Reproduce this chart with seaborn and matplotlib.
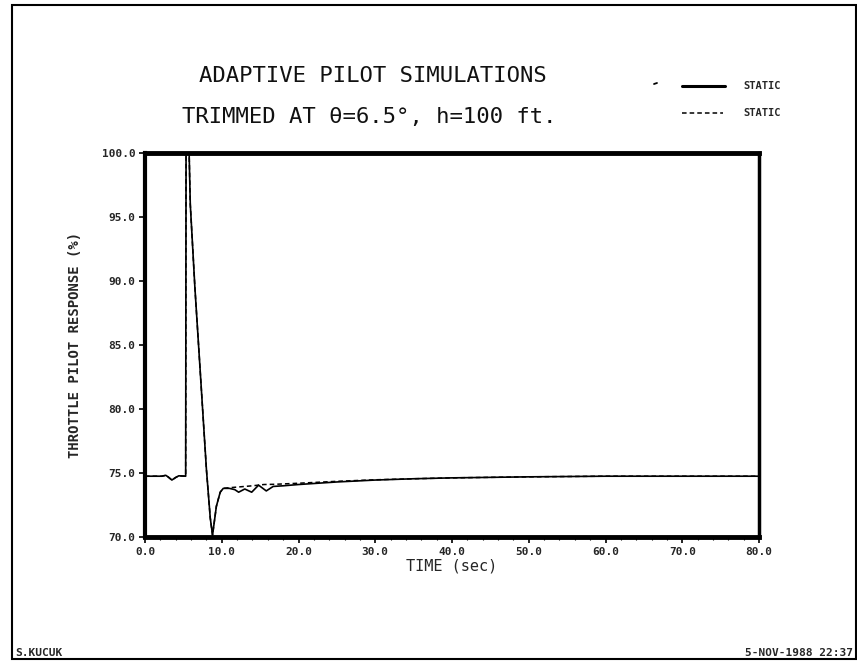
import matplotlib
matplotlib.use("Agg")
import matplotlib.pyplot as plt
from matplotlib.lines import Line2D
from matplotlib.patches import Rectangle
from matplotlib.ticker import MultipleLocator
import numpy as np
import pandas as pd
import seaborn as sns

# Throttle pilot response (%) versus time (sec)
time_solid = [0.0, 2.2, 2.7, 3.0, 3.5, 4.0, 4.4, 5.3, 5.35, 5.75, 5.9, 6.5, 7.2,
              8.0, 8.5, 8.8, 9.3, 9.8, 10.2, 11.0, 11.7, 12.2, 13.0, 13.9, 14.8,
              15.8, 16.7, 18.0, 20.0, 25.0, 30.0, 35.0, 40.0, 50.0, 60.0, 80.0]
resp_solid = [74.75, 74.75, 74.82, 74.7, 74.45, 74.65, 74.78, 74.75, 100.0, 100.0,
              96.0, 89.5, 82.9, 75.3, 71.5, 70.15, 72.4, 73.5, 73.8, 73.8, 73.7,
              73.5, 73.75, 73.5, 74.05, 73.6, 73.95, 74.0, 74.1, 74.3, 74.45,
              74.55, 74.62, 74.7, 74.75, 74.75]

time_dashed = [0.0, 2.2, 2.7, 3.0, 3.5, 4.0, 4.4, 5.3, 5.35, 5.75, 5.9, 6.5, 7.2,
               8.0, 8.5, 8.8, 9.3, 9.8, 10.2, 11.0, 12.0, 13.0, 14.0, 15.5, 17.0,
               20.0, 25.0, 30.0, 35.0, 40.0, 50.0, 60.0, 80.0]
resp_dashed = [74.75, 74.75, 74.82, 74.7, 74.45, 74.65, 74.78, 74.75, 100.0, 100.0,
               96.0, 89.5, 82.9, 75.3, 71.5, 70.15, 72.4, 73.5, 73.8, 73.85, 73.9,
               73.95, 74.0, 74.1, 74.12, 74.2, 74.35, 74.47, 74.55, 74.62, 74.7,
               74.75, 74.75]

x_ticks = [0, 10, 20, 30, 40, 50, 60, 70, 80]
x_tick_labels = ["0.0", "10.0", "20.0", "30.0", "40.0", "50.0", "60.0", "70.0", "80.0"]
y_ticks = [70, 75, 80, 85, 90, 95, 100]
y_tick_labels = ["70.0", "75.0", "80.0", "85.0", "90.0", "95.0", "100.0"]

sns.set_theme(style="white")
plt.rcParams["font.family"] = ["DejaVu Sans Mono", "DejaVu Sans"]

W, H = 857, 661
fig = plt.figure(figsize=(W / 100, H / 100), dpi=100)
fig.patch.set_facecolor("white")

ax_left, ax_right, ax_top, ax_bottom = 145, 759, 153, 537
ax = fig.add_axes([ax_left / W, 1 - ax_bottom / H,
                   (ax_right - ax_left) / W, (ax_bottom - ax_top) / H])
ax.set_facecolor("white")

df_solid = pd.DataFrame({"t": time_solid, "r": resp_solid})
df_dashed = pd.DataFrame({"t": time_dashed, "r": resp_dashed})

sns.lineplot(data=df_dashed, x="t", y="r", ax=ax, color="black", lw=1.1,
             linestyle=(0, (3, 2)), estimator=None, sort=False)
sns.lineplot(data=df_solid, x="t", y="r", ax=ax, color="black", lw=1.2,
             estimator=None, sort=False)

ax.set_xlim(0, 80)
ax.set_ylim(70, 100)
ax.set_xticks(x_ticks)
ax.set_xticklabels(x_tick_labels)
ax.set_yticks(y_ticks)
ax.set_yticklabels(y_tick_labels)
ax.xaxis.set_minor_locator(MultipleLocator(2))
ax.tick_params(axis="both", which="major", direction="out", length=4, width=1.2,
               color="black", labelsize=8, pad=3, bottom=True, left=True)
ax.tick_params(axis="x", which="minor", direction="out", length=2, width=0.8,
               color="black", bottom=True)
for lab in ax.get_xticklabels() + ax.get_yticklabels():
    lab.set_fontweight("bold")

ax.set_xlabel("TIME (sec)", fontsize=11, labelpad=1)
ax.set_ylabel("THROTTLE PILOT RESPONSE (%)", fontsize=10, fontweight="bold",
              labelpad=14)

for side, lw in [("top", 3.5), ("bottom", 3.5), ("left", 3.0), ("right", 2.5)]:
    ax.spines[side].set_visible(True)
    ax.spines[side].set_color("black")
    ax.spines[side].set_linewidth(lw)

# Titles
fig.text(373 / W, 1 - 76 / H, "ADAPTIVE PILOT SIMULATIONS", ha="center",
         va="center", fontsize=16, color="#111111")
fig.text(369 / W, 1 - 117 / H, "TRIMMED AT θ=6.5°, h=100 ft.", ha="center",
         va="center", fontsize=16, color="#111111")

# Legend
fig.add_artist(Line2D([654 / W, 657 / W], [1 - 84 / H, 1 - 83 / H],
                      color="black", lw=1.3, transform=fig.transFigure))
fig.add_artist(Line2D([682 / W, 725 / W], [1 - 86 / H, 1 - 86 / H],
                      color="black", lw=2.2, transform=fig.transFigure))
fig.add_artist(Line2D([682 / W, 723 / W], [1 - 113 / H, 1 - 113 / H],
                      color="black", lw=1.1, linestyle=(0, (3, 2)),
                      transform=fig.transFigure))
fig.text(743 / W, 1 - 86 / H, "STATIC", ha="left", va="center", fontsize=7.5,
         fontweight="bold")
fig.text(743 / W, 1 - 113 / H, "STATIC", ha="left", va="center", fontsize=7.5,
         fontweight="bold")

# Page frame and footer
fig.add_artist(Rectangle((12 / W, 1 - 659 / H), (856 - 12) / W, (659 - 5) / H,
                         fill=False, edgecolor="black", lw=1.5,
                         transform=fig.transFigure))
fig.text(15 / W, 1 - 653 / H, "S.KUCUK", ha="left", va="center", fontsize=8,
         fontweight="bold")
fig.text(853 / W, 1 - 653 / H, "5-NOV-1988 22:37", ha="right", va="center",
         fontsize=8, fontweight="bold")

fig.savefig("out.png", dpi=100, facecolor="white")
